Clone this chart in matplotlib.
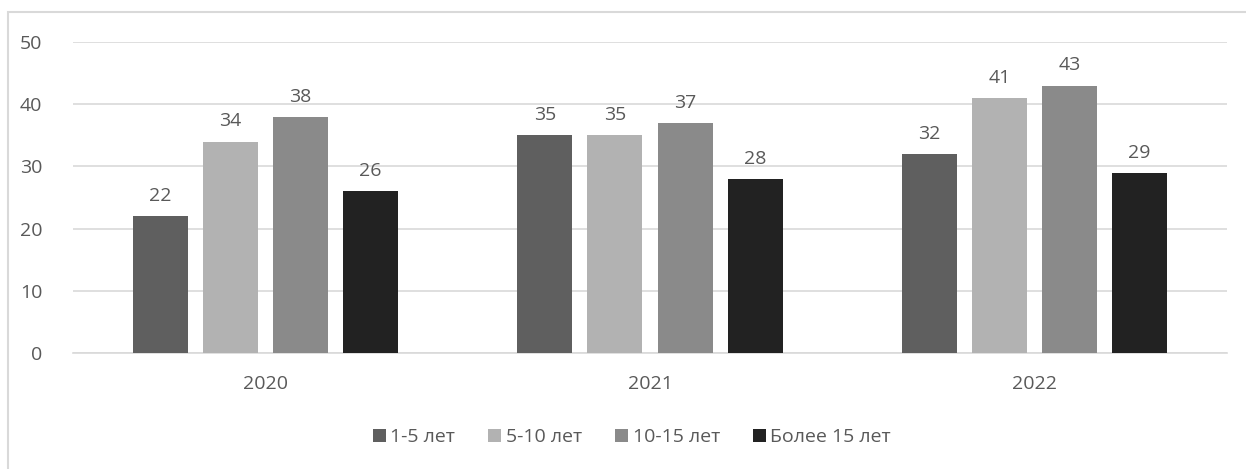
import matplotlib.pyplot as plt
import numpy as np
from matplotlib.patches import Rectangle

years = ["2020", "2021", "2022"]
groups = ["1-5 лет", "5-10 лет", "10-15 лет", "Более 15 лет"]
vals_1_5 = [22, 35, 32]
vals_5_10 = [34, 35, 41]
vals_10_15 = [38, 37, 43]
vals_15_plus = [26, 28, 29]
colors = ["#5f5f5f", "#b2b2b2", "#8a8a8a", "#222222"]

plt.rcParams['font.family'] = ['Open Sans', 'DejaVu Sans']
text_color = "#595959"
fs = 14

fig = plt.figure(figsize=(12.46, 4.69), dpi=100)
ax = fig.add_axes([73 / 1246, 1 - 353 / 469, (1227 - 73) / 1246, (353 - 42) / 469])

x = np.arange(len(years))
width = 0.143
step = 0.182
series = [vals_1_5, vals_5_10, vals_10_15, vals_15_plus]
for i, (vals, name) in enumerate(zip(series, groups)):
    pos = x + (i - 1.5) * step
    bars = ax.bar(pos, vals, width, color=colors[i], label=name, zorder=3)
    ax.bar_label(bars, padding=8, fontsize=fs, color=text_color)

ax.set_xlim(-0.5, 2.5)
ax.set_ylim(0, 50)
ax.set_yticks(range(0, 51, 10))
ax.set_xticks(x)
ax.set_xticklabels(years)
ax.yaxis.grid(True, color="#d9d9d9", linewidth=1.2, zorder=0)
for s in ["top", "right", "left"]:
    ax.spines[s].set_visible(False)
ax.spines["bottom"].set_color("#d9d9d9")
ax.spines["bottom"].set_linewidth(1.2)
ax.tick_params(axis="both", length=0, labelsize=fs, labelcolor=text_color)
ax.tick_params(axis="y", pad=22)
ax.tick_params(axis="x", pad=16)

fig.legend(loc="center", bbox_to_anchor=(632 / 1246, 1 - 437 / 469), ncol=4,
           frameon=False, fontsize=fs, labelcolor=text_color,
           handlelength=0.65, handleheight=0.65, handletextpad=0.25, columnspacing=1.7)

# outer chart frame
fig.patches.append(Rectangle((8 / 1246, -0.01), 1.02, 1 - 12 / 469 + 0.01,
                             transform=fig.transFigure, fill=False,
                             edgecolor="#d9d9d9", linewidth=1.5))

fig.savefig("out.png", dpi=100)
